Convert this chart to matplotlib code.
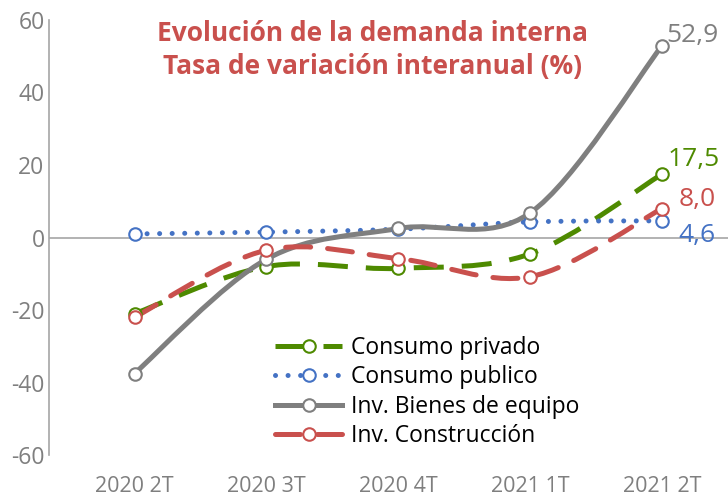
import numpy as np
import matplotlib.pyplot as plt
from matplotlib.path import Path
from matplotlib.patches import PathPatch
from matplotlib.lines import Line2D

plt.rcParams['font.family'] = ['Open Sans', 'DejaVu Sans']
plt.rcParams['axes.unicode_minus'] = False

quarters = ['2020 2T', '2020 3T', '2020 4T', '2021 1T', '2021 2T']
consumo_privado = [-21.0, -8.0, -8.5, -4.5, 17.5]
consumo_publico = [1.0, 1.5, 2.3, 4.3, 4.6]
bienes_equipo = [-37.5, -6.0, 2.5, 6.8, 52.9]
construccion = [-22.0, -3.5, -5.8, -10.8, 8.0]
end_labels = ['17,5', '4,6', '52,9', '8,0']

series = [
    ('Consumo privado', consumo_privado, '#4e8a00', (0, (6.0, 3.6)), 3.6, 'butt'),
    ('Consumo publico', consumo_publico, '#4472c4', (0, (0.01, 2.5)), 3.6, 'round'),
    ('Inv. Bienes de equipo', bienes_equipo, '#7f7f7f', '-', 3.6, 'round'),
    ('Inv. Construcción', construccion, '#c9504d', (0, (5.0, 3.4)), 3.6, 'round'),
]


def smooth_path(x, y):
    # bezier segments like the spreadsheet "smoothed line"
    pts = np.column_stack([x, y]).astype(float)
    n = len(pts)
    verts = [pts[0]]
    codes = [Path.MOVETO]
    for i in range(n - 1):
        p0 = pts[i - 1] if i > 0 else pts[i]
        p1 = pts[i]
        p2 = pts[i + 1]
        p3 = pts[i + 2] if i + 2 < n else pts[i + 1]
        c1 = p1 + (p2 - p0) / 6
        c2 = p2 - (p3 - p1) / 6
        verts += [c1, c2, p2]
        codes += [Path.CURVE4] * 3
    return Path(verts, codes)


fig = plt.figure(figsize=(7.28, 4.99), dpi=100)
ax = fig.add_axes([0.067, 0.088, 0.933, 0.872])

x = np.arange(len(quarters))
ax.axhline(0, color='#a6a6a6', lw=1.2, zorder=1)

handles = []
for name, vals, color, ls, lw, cap in series:
    patch = PathPatch(smooth_path(x, vals), facecolor='none', edgecolor=color,
                      lw=lw, linestyle=ls, capstyle=cap, zorder=2)
    ax.add_patch(patch)
    ax.plot(x, vals, linestyle='none', marker='o', markersize=9,
            markerfacecolor='white', markeredgecolor=color, markeredgewidth=1.5, zorder=3)
    h = Line2D([], [], color=color, lw=lw, linestyle=ls, marker='o', markersize=9,
               markerfacecolor='white', markeredgecolor=color, markeredgewidth=1.5,
               dash_capstyle=cap)
    handles.append(h)

# end-of-series labels (offsets in points)
label_offsets = {'Consumo privado': (4, 6), 'Consumo publico': (12, -15),
                 'Inv. Bienes de equipo': (3, 3), 'Inv. Construcción': (12, 1.5)}
for (name, vals, color, *_), txt in zip(series, end_labels):
    ax.annotate(txt, (x[-1], vals[-1]), xytext=label_offsets[name],
                textcoords='offset points', color=color, fontsize=19,
                ha='left', va='baseline', zorder=4, annotation_clip=False)

ax.set_xlim(-0.65, 4.5)
ax.set_ylim(-60, 60)
ax.set_yticks(np.arange(-60, 61, 20))
ax.set_xticks(x)
ax.set_xticklabels(quarters)
ax.tick_params(axis='both', length=0, colors='#7f7f7f')
ax.tick_params(axis='y', labelsize=16.5, pad=3)
ax.tick_params(axis='x', labelsize=15.5, pad=15)
for side in ['top', 'right', 'bottom']:
    ax.spines[side].set_visible(False)
ax.spines['left'].set_color('#a6a6a6')
ax.spines['left'].set_linewidth(1.2)

ax.text(0.476, 1.0, 'Evolución de la demanda interna\nTasa de variación interanual (%)',
        transform=ax.transAxes, ha='center', va='top', color='#c9504d',
        fontsize=19, fontweight='bold', linespacing=1.3)

ax.legend(handles, [s[0] for s in series], loc='lower left',
          bbox_to_anchor=(0.32, -0.005), frameon=False, fontsize=16.5,
          handlelength=2.9, handletextpad=0.4, labelspacing=0.24,
          borderaxespad=0)

fig.savefig('out.png', dpi=100)
